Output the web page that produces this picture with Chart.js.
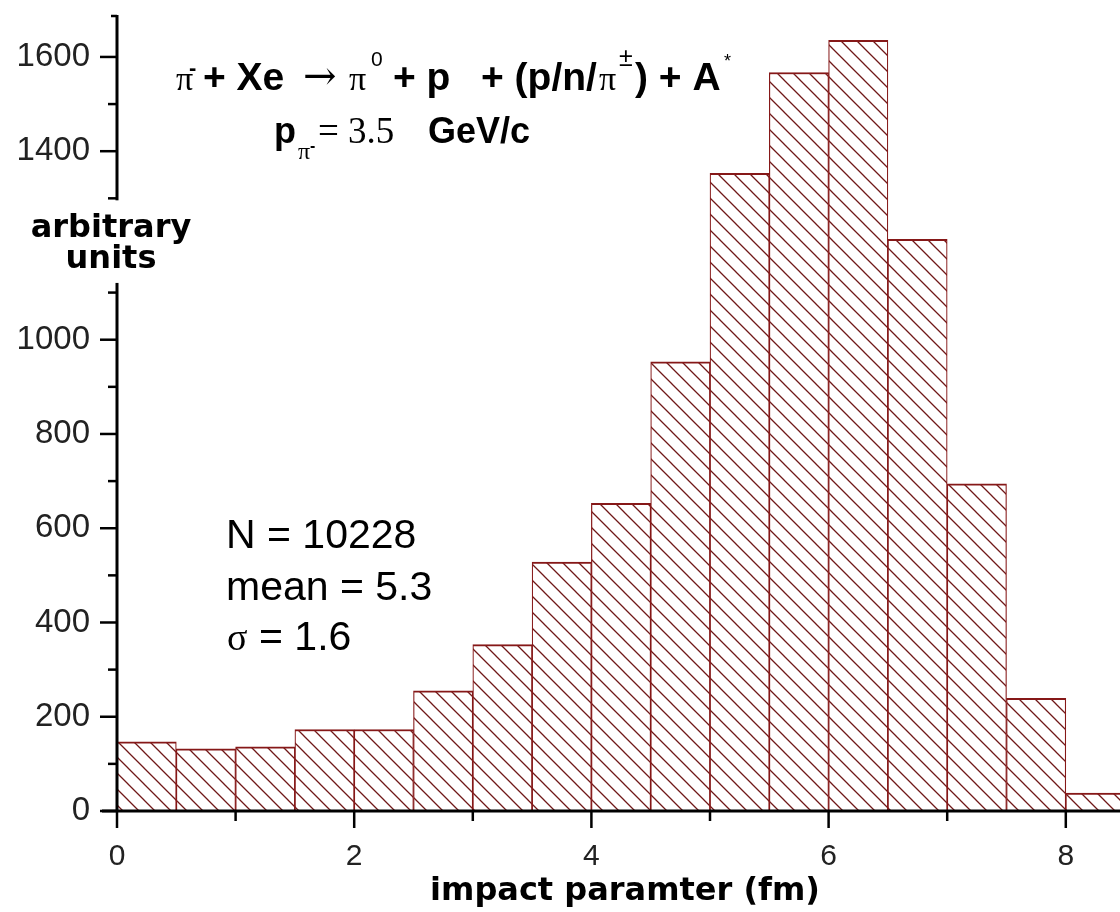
<!DOCTYPE html>
<html>
<head>
<meta charset="utf-8">
<title>impact parameter histogram</title>
<script src="https://cdn.jsdelivr.net/npm/chart.js@4.4.1/dist/chart.umd.min.js"></script>
<style>
  html, body { margin: 0; padding: 0; background: #fff; }
  #wrap { width: 1120px; height: 912px; position: relative; }
</style>
</head>
<body>
<div id="wrap"><canvas id="histChart"></canvas></div>
<script>
// histogram bins: centre of each 0.5 fm bin and its count
const binCenters = [0.25, 0.75, 1.25, 1.75, 2.25, 2.75, 3.25, 3.75, 4.25, 4.75, 5.25, 5.75, 6.25, 6.75, 7.25, 7.75, 8.25];
const counts = [147, 132, 136, 173, 173, 255, 353, 528, 653, 953, 1353, 1567, 1635, 1213, 694, 239, 38];

// axis ticks (1200 sits under the y title, so it has no mark or label)
const xMajorTicks = [0, 2, 4, 6, 8];
const xMinorTicks = [1, 3, 5, 7];
const yMajorTicks = [0, 200, 400, 600, 800, 1000, 1400, 1600];
const yMinorTicks = [100, 300, 500, 700, 900, 1100, 1300, 1500];
const yAxisBreak = [1112, 1300];   // axis line is broken here for the label

const xTitle = 'impact paramter (fm)';
const yTitle = ['arbitrary', 'units'];
const statLines = ['N = 10228', 'mean = 5.3', '= 1.6'];

const SANS = '"Liberation Sans", Arial, sans-serif';
const SERIF = '"Liberation Serif", "Times New Roman", "DejaVu Serif", serif';
const WIDE = '"DejaVu Sans", Verdana, sans-serif';
const BAR_RED = '#861818';

function makeHatch() {
    const c = document.createElement('canvas');
    c.width = 16; c.height = 16;
    const g = c.getContext('2d');
    g.fillStyle = '#fff';
    g.fillRect(0, 0, 16, 16);
    g.strokeStyle = '#701818';
    g.lineWidth = 1.3;
    g.beginPath();
    g.moveTo(0, 0); g.lineTo(16, 16);
    g.moveTo(-1, 15); g.lineTo(1, 17);
    g.moveTo(15, -1); g.lineTo(17, 1);
    g.stroke();
    return g.createPattern(c, 'repeat');
}

function line(ctx, x1, y1, x2, y2) {
    ctx.beginPath();
    ctx.moveTo(x1, y1);
    ctx.lineTo(x2, y2);
    ctx.stroke();
}

function text(ctx, str, x, y, font, align) {
    ctx.font = font;
    ctx.textAlign = align || 'left';
    ctx.fillText(str, x, y);
}

function noPadding(s) {
    s.paddingLeft = 0; s.paddingRight = 0;
    s.paddingTop = 0; s.paddingBottom = 0;
}

const whiteBg = {
    id: 'whiteBg',
    beforeDraw(chart) {
        const ctx = chart.ctx;
        ctx.save();
        ctx.fillStyle = '#fff';
        ctx.fillRect(0, 0, chart.width, chart.height);
        ctx.restore();
    }
};

// axis lines, tick marks and the free text of the plot
const decorations = {
    id: 'decorations',
    afterDatasetsDraw(chart) {
        const { ctx, scales: { x, y } } = chart;
        const x0 = x.getPixelForValue(0);
        const y0 = y.getPixelForValue(0);
        ctx.save();
        ctx.strokeStyle = '#000';
        ctx.lineCap = 'butt';

        // axes
        ctx.lineWidth = 3;
        line(ctx, x0 - 15, y0, chart.width, y0);
        line(ctx, x0, y0 + 1, x0, chart.chartArea.top);
        ctx.lineWidth = 2.5;
        yMajorTicks.forEach(v => line(ctx, x0 - 17, y.getPixelForValue(v), x0, y.getPixelForValue(v)));
        yMinorTicks.forEach(v => line(ctx, x0 - 9, y.getPixelForValue(v), x0, y.getPixelForValue(v)));
        xMajorTicks.forEach(v => line(ctx, x.getPixelForValue(v), y0, x.getPixelForValue(v), y0 + 17));
        xMinorTicks.forEach(v => line(ctx, x.getPixelForValue(v), y0, x.getPixelForValue(v), y0 + 10));
        line(ctx, x0 - 6, chart.chartArea.top + 1, x0, chart.chartArea.top + 1);

        // gap in the y axis for its title
        ctx.fillStyle = '#fff';
        const gTop = y.getPixelForValue(yAxisBreak[1]) + 2;
        const gBot = y.getPixelForValue(yAxisBreak[0]) - 4;
        ctx.fillRect(x0 - 3, gTop, 6, gBot - gTop);

        ctx.fillStyle = '#000';
        ctx.textBaseline = 'alphabetic';

        // y title
        text(ctx, yTitle[0], 111, 237, 'bold 32px ' + WIDE, 'center');
        text(ctx, yTitle[1], 111, 268, 'bold 32px ' + WIDE, 'center');

        // x title
        text(ctx, xTitle, 625, 900, 'bold 32px ' + WIDE, 'center');

        // reaction
        const B39 = 'bold 39px ' + SANS;
        text(ctx, '\u03c0', 176, 90, '34px ' + SERIF);
        text(ctx, '-', 189, 75, 'bold 22px ' + SANS);
        text(ctx, '+ Xe', 203, 90, B39);
        text(ctx, '\u2192', 303, 89, '40px "DejaVu Serif", serif');
        text(ctx, '\u03c0', 349, 90, '34px ' + SERIF);
        text(ctx, '0', 371, 66, '21px ' + SANS);
        text(ctx, '+ p', 393, 90, B39);
        text(ctx, '+ (p/n/', 481, 90, B39);
        text(ctx, '\u03c0', 599, 90, '34px ' + SERIF);
        text(ctx, '\u00b1', 619, 66, '25px ' + SANS);
        text(ctx, ') + A', 635, 90, B39);
        text(ctx, '*', 724, 67, '18px ' + SANS);

        // beam momentum
        text(ctx, 'p', 274, 143, 'bold 36px ' + SANS);
        text(ctx, '\u03c0', 298, 159, '24px ' + SERIF);
        text(ctx, '-', 310, 151, 'bold 16px ' + SANS);
        text(ctx, '= 3.5', 318, 143, '37px ' + SERIF);
        text(ctx, 'GeV/c', 428, 143, 'bold 36px ' + SANS);

        // statistics
        text(ctx, statLines[0], 226, 548, '41px ' + SANS);
        text(ctx, statLines[1], 226, 600, '41px ' + SANS);
        text(ctx, '\u03c3', 227, 650, '38px ' + SERIF);
        text(ctx, statLines[2], 259, 650, '41px ' + SANS);

        ctx.restore();
    }
};

const ctx = document.getElementById('histChart').getContext('2d');
const histChart = new Chart(ctx, {
    type: 'bar',
    data: {
        datasets: [{
            data: binCenters.map((c, i) => ({ x: c, y: counts[i] })),
            backgroundColor: makeHatch(),
            borderColor: BAR_RED,
            borderWidth: { top: 2, left: 1.2, right: 1.2, bottom: 0 },
            borderSkipped: false,
            barPercentage: 1,
            categoryPercentage: 1
        }]
    },
    options: {
        responsive: true,
        maintainAspectRatio: false,
        animation: false,
        layout: { padding: { top: 15, right: 0, left: 0, bottom: 0 } },
        plugins: {
            legend: { display: false },
            tooltip: { enabled: false }
        },
        scales: {
            x: {
                type: 'linear',
                min: 0,
                max: 8.457,
                offset: false,
                grid: { display: false, drawTicks: false },
                border: { display: false },
                afterFit: s => { s.height = 101; noPadding(s); },
                ticks: {
                    stepSize: 1,
                    includeBounds: false,
                    autoSkip: false,
                    maxRotation: 0,
                    padding: 28,
                    color: '#222',
                    font: { family: SANS, size: 30 },
                    callback: v => xMajorTicks.includes(v) ? v : ''
                }
            },
            y: {
                min: 0,
                max: 1689,
                grid: { display: false, drawTicks: false },
                border: { display: false },
                afterFit: s => { s.width = 117; noPadding(s); },
                ticks: {
                    stepSize: 100,
                    includeBounds: false,
                    autoSkip: false,
                    padding: 27,
                    color: '#222',
                    font: { family: SANS, size: 33 },
                    callback: v => yMajorTicks.includes(v) ? v : ''
                }
            }
        }
    },
    plugins: [whiteBg, decorations]
});
</script>
</body>
</html>
